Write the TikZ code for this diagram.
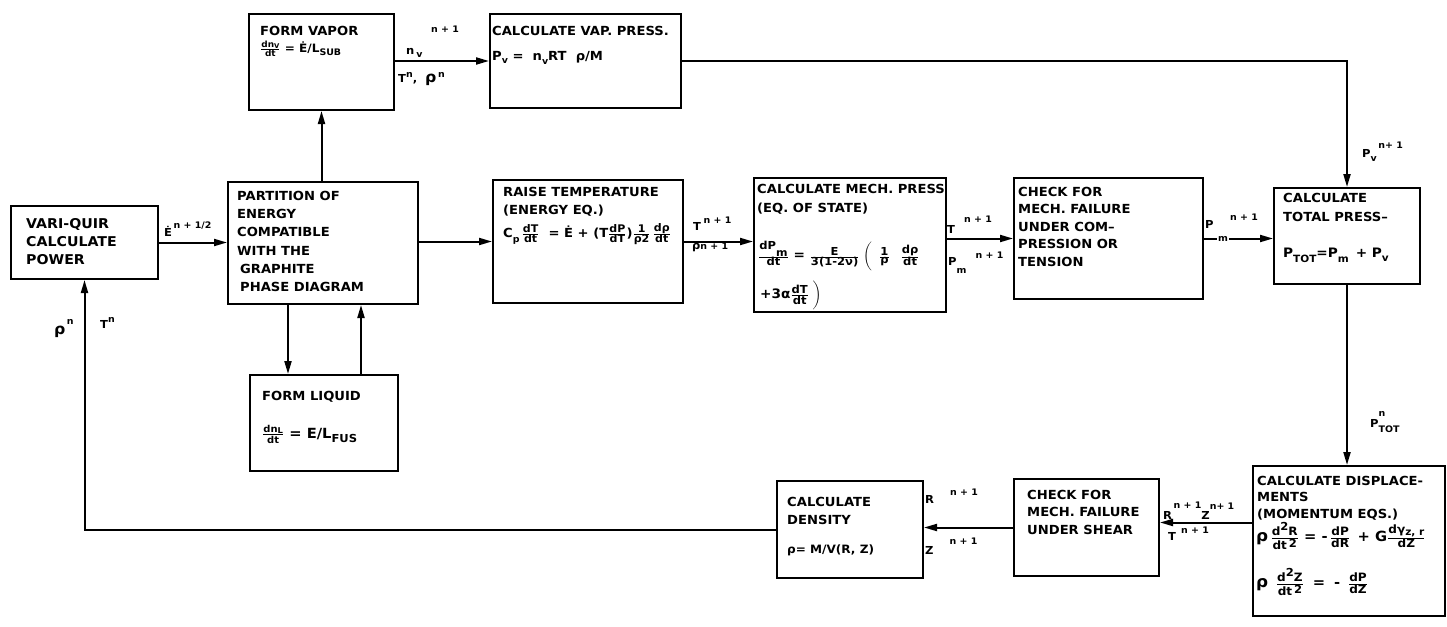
\documentclass[tikz,border=0pt]{standalone}
\usepackage{amsmath}
\usepackage{fontspec}
\setmainfont{DejaVu Sans}[FakeStretch=1.05]
\usetikzlibrary{arrows.meta}
\newcommand\frsz{10}
\newcommand\ssz{8}
\newcommand\fr[2]{\frac{\text{\fontsize{\frsz}{\frsz}\selectfont #1}}{\text{\fontsize{\frsz}{\frsz}\selectfont #2}}}
\newcommand\lowr[2][-2.5pt]{\raisebox{#1}{\fontsize{\ssz}{\ssz}\selectfont #2}}
\newcommand\highr[2][4pt]{\raisebox{#1}{\fontsize{\ssz}{\ssz}\selectfont #2}}
\newcommand\lup[2][6pt]{\raisebox{#1}{\fontsize{9}{9}\selectfont #2}}
\begin{document}
\begin{tikzpicture}[x=1pt,y=1pt,
  box/.style={draw, line width=2pt, inner sep=0pt, anchor=north west},
  txt/.style={anchor=north west, inner sep=0pt, align=left, font=\fontsize{12.5}{17.6}\selectfont\bfseries},
  fml/.style={anchor=west, inner sep=0pt, font=\fontsize{12}{13}\selectfont\bfseries},
  lbl/.style={inner sep=0pt, anchor=base west, font=\fontsize{11}{13}\selectfont\bfseries},
  arr/.style={line width=2pt, -{Triangle[length=13pt,width=7pt]}},
  ln/.style={line width=2pt}]
\useasboundingbox (0,0) rectangle (1447,-626);

% boxes
\node[box, minimum width=147pt, minimum height=73pt] (vq) at (10,-205) {};
\node[box, minimum width=190pt, minimum height=122pt] (part) at (227,-181) {};
\node[box, minimum width=145pt, minimum height=96pt] (fv) at (248,-13) {};
\node[box, minimum width=191pt, minimum height=94pt] (vp) at (489,-13) {};
\node[box, minimum width=190pt, minimum height=123pt] (rt) at (492,-179) {};
\node[box, minimum width=192pt, minimum height=134pt] (mp) at (753,-177) {};
\node[box, minimum width=189pt, minimum height=121pt] (cc) at (1013,-177) {};
\node[box, minimum width=146pt, minimum height=96pt] (tp) at (1273,-187) {};
\node[box, minimum width=148pt, minimum height=96pt] (fl) at (249,-374) {};
\node[box, minimum width=192pt, minimum height=150pt] (disp) at (1252,-465) {};
\node[box, minimum width=145pt, minimum height=97pt] (shear) at (1013,-478) {};
\node[box, minimum width=146pt, minimum height=97pt] (dens) at (776,-480) {};

% box texts
\node[txt, font=\fontsize{13.5}{18}\selectfont\bfseries] (vqt) at (26,-218) {VARI-QUIR\\CALCULATE\\POWER};
\node[txt, font=\fontsize{12.5}{18.2}\selectfont\bfseries] (partt) at (237,-191) {PARTITION OF\\ENERGY\\COMPATIBLE\\WITH THE\\\hspace{3pt}GRAPHITE\\\hspace{3pt}PHASE DIAGRAM};
\node[txt] (fvt) at (260,-26) {FORM VAPOR};
\node[fml, font=\fontsize{11.5}{13}\selectfont\bfseries\renewcommand\frsz{8.5}\renewcommand\ssz{9}] (fvf) at (260,-49) {$\fr{dn\raisebox{-1.5pt}{\fontsize{6.5}{7}\selectfont V}}{dt}$ = Ė/L\lowr[-3pt]{SUB}};
\node[txt] (vpt) at (492,-26) {CALCULATE VAP. PRESS.};
\node[fml, font=\fontsize{12.5}{13}\selectfont\bfseries\renewcommand\ssz{9}] (vpf) at (492,-58) {P\lowr{v} = \ n\lowr[-4pt]{v}RT ~ρ/M};
\node[txt, font=\fontsize{12.5}{18}\selectfont\bfseries] (rtt) at (503,-187) {RAISE TEMPERATURE\\(ENERGY EQ.)};
\node[fml, font=\fontsize{12.5}{13}\selectfont\bfseries\renewcommand\ssz{9}\renewcommand\frsz{10.5}] (rtf) at (503,-234) {C\lowr[-5pt]{p}\,$\fr{dT}{dt}$ \ = Ė + (T$\fr{dP}{dT}$)$\fr{1}{ρ2}$\,$\fr{dρ}{dt}$};
\node[txt, font=\fontsize{12.5}{19}\selectfont\bfseries] (mpt) at (757,-184) {CALCULATE MECH. PRESS\\(EQ. OF STATE)};
\node[fml, font=\fontsize{13}{14}\selectfont\bfseries\renewcommand\ssz{10.5}\renewcommand\frsz{11}] (mpf1) at (758,-256) {$\fr{dP\lowr[-7pt]{m}}{dt}$ = $\fr{E}{3(1-2ν)}$\;$\biggl($\;\;$\fr{1}{ρ}$\;\;\;$\fr{dρ}{dt}$};
\node[fml, font=\fontsize{13}{14}\selectfont\bfseries\renewcommand\frsz{11}] (mpf2) at (760,-295) {+3α$\fr{dT}{dt}$\;$\biggr)$};
\node[txt, font=\fontsize{12.5}{17.4}\selectfont\bfseries] (cct) at (1018,-187) {CHECK FOR\\MECH. FAILURE\\UNDER COM–\\PRESSION OR\\TENSION};
\node[txt, font=\fontsize{12.5}{19}\selectfont\bfseries] (tpt) at (1283,-193) {CALCULATE\\TOTAL PRESS–};
\node[fml, font=\fontsize{13}{14}\selectfont\bfseries\renewcommand\ssz{10}] (tpf) at (1283,-255) {P\lowr[-5pt]{TOT}=P\lowr[-5pt]{m} \,+ P\lowr[-4pt]{v}};
\node[txt] (flt) at (262,-391) {FORM LIQUID};
\node[fml, font=\fontsize{14}{15}\selectfont\bfseries\renewcommand\ssz{11}\renewcommand\frsz{9.5}] (flf) at (262,-434) {$\fr{dn\raisebox{-1.5pt}{\fontsize{8}{8}\selectfont L}}{dt}$ = E/L\lowr[-4pt]{FUS}};
\node[txt, font=\fontsize{12.5}{16.5}\selectfont\bfseries] (dispt) at (1257,-476) {CALCULATE DISPLACE-\\MENTS\\(MOMENTUM EQS.)};
\node[fml, font=\fontsize{14}{15}\selectfont\bfseries\renewcommand\frsz{11.5}\renewcommand\ssz{10}] (dispf1) at (1256,-536) {{\fontsize{16}{16}\selectfont ρ}\,$\fr{d\highr[5pt]{\fontsize{11}{11}\selectfont 2}R}{dt\,\highr[2pt]{\fontsize{11}{11}\selectfont 2}}$ = -\,$\fr{dP}{dR}$ \,+ G$\fr{dγ\lowr{z, r}}{dZ}$};
\node[fml, font=\fontsize{14}{15}\selectfont\bfseries\renewcommand\frsz{11.5}] (dispf2) at (1256,-582) {{\fontsize{16}{16}\selectfont ρ}\;\;$\fr{d\highr[5pt]{\fontsize{11}{11}\selectfont 2}Z}{dt\,\highr[2pt]{\fontsize{11}{11}\selectfont 2}}$ \;=\; -\;\;$\fr{dP}{dZ}$};
\node[txt, font=\fontsize{12.5}{17.5}\selectfont\bfseries] (sheart) at (1027,-490) {CHECK FOR\\MECH. FAILURE\\UNDER SHEAR};
\node[txt, font=\fontsize{12.5}{18}\selectfont\bfseries] (denst) at (787,-497) {CALCULATE\\DENSITY};
\node[fml, font=\fontsize{11.5}{12}\selectfont\bfseries] (densf) at (787,-550) {ρ= M/V(R, Z)};

% connectors
\draw[arr] (vq.east) -- (vq.east -| part.west);
\draw[arr] (part.north -| fv.south) -- (fv.south);
\draw[arr] (fv.east |- vp.west) -- (vp.west);
\draw[arr] (vp.east) -- (vp.east -| tp.north) -- (tp.north);
\draw[arr] (part.east |- rt.west) -- (rt.west);
\draw[arr] (rt.east) -- (rt.east -| mp.west);
\draw[arr] (cc.west -| mp.east) -- (cc.west);
\draw[arr] (cc.east) -- (cc.east -| tp.west);
\draw[arr] ([xshift=-36pt]fl.north |- part.south) -- ([xshift=-36pt]fl.north);
\draw[arr] ([xshift=37pt]fl.north) -- ([xshift=37pt]fl.north |- part.south);
\draw[arr] (tp.south) -- (tp.south |- disp.north);
\draw[arr] (disp.west |- shear.east) ++(0,5) coordinate (dso) -- (dso -| shear.east);
\draw[arr] (shear.west) -- (shear.west -| dens.east);
\draw[arr] (dens.west) -- (dens.west -| vq.south) -- (vq.south);

% labels
\node[lbl] (la) at (164,-236) {Ė\lup[8pt]{\,n + 1/2}};
\node[lbl] (lb1) at (406,-55) {n\,\lup[-2pt]{v}};
\node[lbl, font=\fontsize{9}{9}\selectfont\bfseries] (lb2) at (431,-33) {n + 1};
\node[lbl] (lc) at (398,-82) {T\lup[5pt]{n}, \ {\fontsize{15}{15}\selectfont ρ}\lup[5pt]{\,n}};
\node[lbl] (ld) at (1362,-157) {P\lup[-4pt]{v}\lup[9pt]{\,n+ 1}};
\node[lbl] (le1) at (693,-230) {T\lup[7pt]{\;n + 1}};
\node[lbl] (le2) at (692,-249) {ρ\lup[0pt]{n + 1}};
\node[lbl] (lf1) at (947,-233) {T\lup[11pt]{\quad n + 1}};
\node[lbl] (lf2) at (948,-265) {P\lup[-8pt]{m}\lup[7pt]{\quad n + 1}};
\node[lbl] (lg1) at (1205,-228) {P};
\node[lbl, fill=white, inner sep=1pt, anchor=center, font=\fontsize{9}{9}\selectfont\bfseries] (lg2) at (1223,-239) {m};
\node[lbl, font=\fontsize{9}{9}\selectfont\bfseries] (lg3) at (1230,-220) {n + 1};
\node[lbl] (lh) at (1370,-427) {P\rlap{\lup[11pt]{n}}\lup[-5pt]{TOT}};
\node[lbl] (li1) at (1163,-519) {R\lup[11pt]{\,n + 1}Z\lup[10pt]{n+ 1}};
\node[lbl] (li2) at (1168,-540) {T\lup[7pt]{\;\;n + 1}};
\node[lbl] (lj1) at (925,-503) {R\lup[8pt]{\hspace{16pt}n + 1}};
\node[lbl] (lj2) at (925,-554) {Z\lup[10pt]{\hspace{16pt}n + 1}};
\node[lbl, font=\fontsize{15}{15}\selectfont\bfseries] (lk1) at (54,-334) {ρ\lup[10pt]{\,n}};
\node[lbl] (lk2) at (100,-328) {T\lup[6pt]{n}};
\end{tikzpicture}
\end{document}
